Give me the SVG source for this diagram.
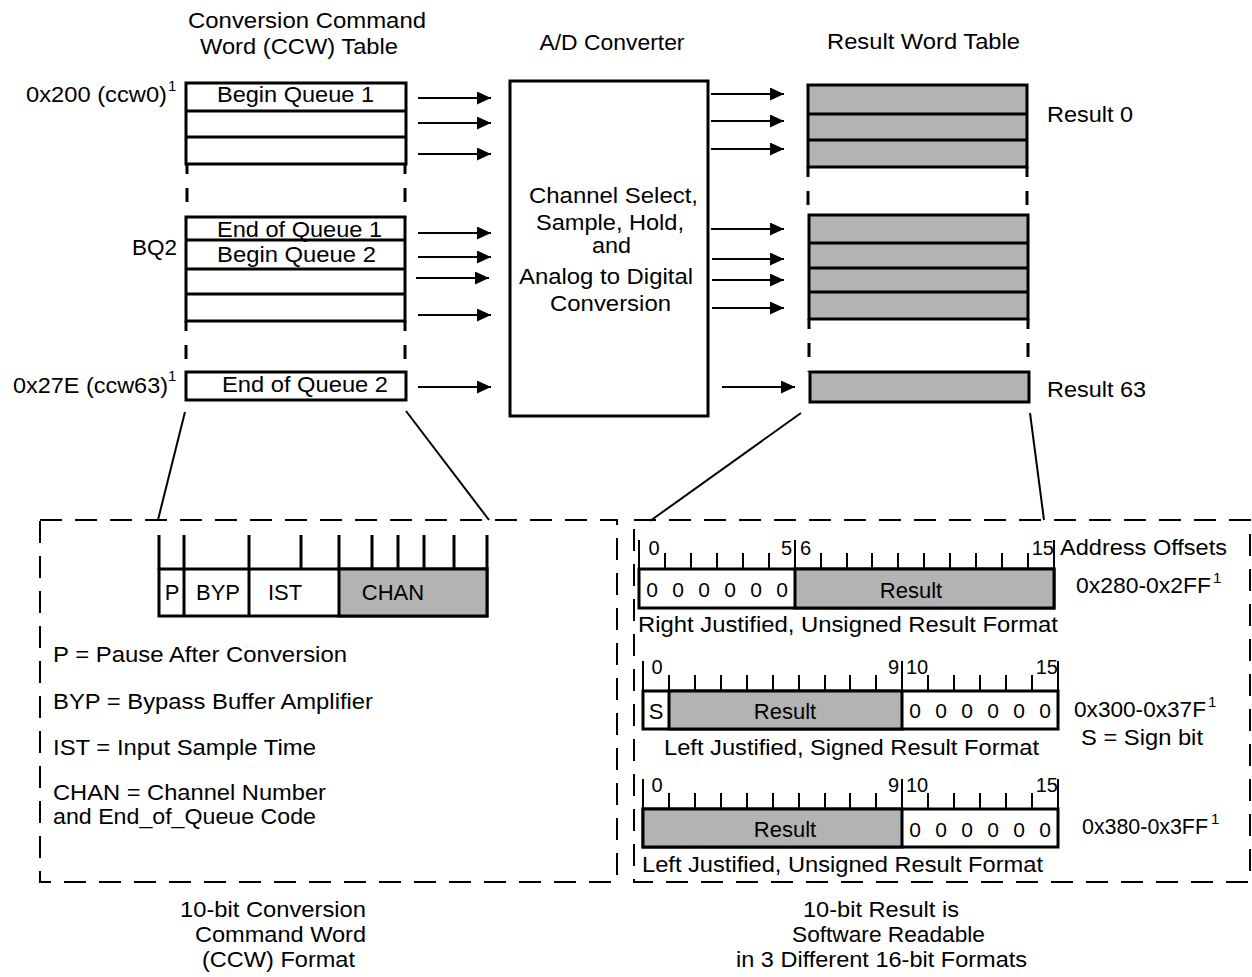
<svg xmlns="http://www.w3.org/2000/svg" width="1252" height="977" viewBox="0 0 1252 977">
<defs>
<marker id="ah" markerUnits="userSpaceOnUse" markerWidth="15" markerHeight="14" refX="14" refY="6.5" orient="auto"><path d="M0,0 L14,6.5 L0,13 z" fill="#000"/></marker>
<style>
text { font-family: "Liberation Sans", Arial, sans-serif; font-size: 22px; fill: #000; }
.n { font-size: 20px; }
.z { font-size: 21px; }
.sup { font-size: 15px; }
.box { fill: #fff; stroke: #000; stroke-width: 3; }
.gbox { fill: #b3b3b3; stroke: #000; stroke-width: 3; }
.ln { stroke: #000; stroke-width: 3; fill: none; }
.tk { stroke: #000; stroke-width: 2; fill: none; }
.gap { stroke: #000; stroke-width: 3; stroke-dasharray: 10 14 14 14; fill: none; }
.arr { stroke: #000; stroke-width: 2; fill: none; marker-end: url(#ah); }
.zl { stroke: #000; stroke-width: 2; fill: none; }
.dash { fill: none; stroke: #000; stroke-width: 2; stroke-dasharray: 22 13; }
.m { text-anchor: middle; }
.e { text-anchor: end; }
</style>
</defs>
<rect width="1252" height="977" fill="#fff"/>

<g id="titles">
<text x="188" y="28" textLength="238" lengthAdjust="spacingAndGlyphs">Conversion Command</text>
<text x="200" y="54" textLength="198" lengthAdjust="spacingAndGlyphs">Word (CCW) Table</text>
<text x="612" y="50" class="m" textLength="145" lengthAdjust="spacingAndGlyphs">A/D Converter</text>
<text x="827" y="49" textLength="193" lengthAdjust="spacingAndGlyphs">Result Word Table</text>
</g>

<g id="ccw-table">
<rect class="box" x="186" y="83" width="220" height="81"/>
<line class="ln" x1="186" y1="111" x2="406" y2="111"/>
<line class="ln" x1="186" y1="137" x2="406" y2="137"/>
<line class="gap" x1="187" y1="164" x2="187" y2="217"/>
<line class="gap" x1="405" y1="164" x2="405" y2="217"/>
<rect class="box" x="186" y="217" width="219" height="104"/>
<line class="ln" x1="186" y1="240" x2="405" y2="240"/>
<line class="ln" x1="186" y1="269" x2="405" y2="269"/>
<line class="ln" x1="186" y1="294" x2="405" y2="294"/>
<line class="gap" x1="186" y1="321" x2="186" y2="372"/>
<line class="gap" x1="405" y1="321" x2="405" y2="372"/>
<rect class="box" x="186" y="372" width="220" height="28"/>
<text x="217" y="102" textLength="157" lengthAdjust="spacingAndGlyphs">Begin Queue 1</text>
<text x="217" y="237" textLength="165" lengthAdjust="spacingAndGlyphs">End of Queue 1</text>
<text x="217" y="262" textLength="159" lengthAdjust="spacingAndGlyphs">Begin Queue 2</text>
<text x="222" y="392" textLength="166" lengthAdjust="spacingAndGlyphs">End of Queue 2</text>
<text x="26" y="102" textLength="141" lengthAdjust="spacingAndGlyphs">0x200 (ccw0)</text>
<text x="168" y="91" class="sup">1</text>
<text x="132" y="255" textLength="45" lengthAdjust="spacingAndGlyphs">BQ2</text>
<text x="13" y="393" textLength="155" lengthAdjust="spacingAndGlyphs">0x27E (ccw63)</text>
<text x="168" y="381" class="sup">1</text>
</g>

<g id="adc">
<rect class="box" x="510" y="81" width="198" height="335"/>
<text x="529" y="203" textLength="169" lengthAdjust="spacingAndGlyphs">Channel Select,</text>
<text x="536" y="230" textLength="148" lengthAdjust="spacingAndGlyphs">Sample, Hold,</text>
<text x="592" y="253" textLength="39" lengthAdjust="spacingAndGlyphs">and</text>
<text x="519" y="284" textLength="174" lengthAdjust="spacingAndGlyphs">Analog to Digital</text>
<text x="550" y="311" textLength="121" lengthAdjust="spacingAndGlyphs">Conversion</text>
</g>

<g id="result-table">
<rect class="gbox" x="808" y="85" width="219" height="82"/>
<line class="ln" x1="808" y1="114" x2="1027" y2="114"/>
<line class="ln" x1="808" y1="140" x2="1027" y2="140"/>
<line class="gap" x1="808" y1="167" x2="808" y2="215"/>
<line class="gap" x1="1027" y1="167" x2="1027" y2="215"/>
<rect class="gbox" x="809" y="215" width="219" height="104"/>
<line class="ln" x1="809" y1="243" x2="1028" y2="243"/>
<line class="ln" x1="809" y1="268" x2="1028" y2="268"/>
<line class="ln" x1="809" y1="292" x2="1028" y2="292"/>
<line class="gap" x1="809" y1="319" x2="809" y2="372"/>
<line class="gap" x1="1028" y1="319" x2="1028" y2="372"/>
<rect class="gbox" x="810" y="372" width="219" height="30"/>
<text x="1047" y="122" textLength="86" lengthAdjust="spacingAndGlyphs">Result 0</text>
<text x="1047" y="397" textLength="99" lengthAdjust="spacingAndGlyphs">Result 63</text>
</g>

<g id="connectors">
<line class="arr" x1="418" y1="98" x2="491" y2="98"/>
<line class="arr" x1="418" y1="123" x2="491" y2="123"/>
<line class="arr" x1="418" y1="154" x2="491" y2="154"/>
<line class="arr" x1="418" y1="233" x2="491" y2="233"/>
<line class="arr" x1="418" y1="257" x2="491" y2="257"/>
<line class="arr" x1="416" y1="278" x2="489" y2="278"/>
<line class="arr" x1="418" y1="315" x2="491" y2="315"/>
<line class="arr" x1="418" y1="387" x2="491" y2="387"/>
<line class="arr" x1="711" y1="94" x2="784" y2="94"/>
<line class="arr" x1="711" y1="121" x2="784" y2="121"/>
<line class="arr" x1="711" y1="149" x2="784" y2="149"/>
<line class="arr" x1="711" y1="229" x2="784" y2="229"/>
<line class="arr" x1="712" y1="259" x2="784" y2="259"/>
<line class="arr" x1="712" y1="280" x2="784" y2="280"/>
<line class="arr" x1="712" y1="308" x2="784" y2="308"/>
<line class="arr" x1="722" y1="387" x2="795" y2="387"/>
<line class="zl" x1="185" y1="412" x2="158" y2="520"/>
<line class="zl" x1="406" y1="411" x2="489" y2="520"/>
<line class="zl" x1="801" y1="413" x2="650" y2="521"/>
<line class="zl" x1="1030" y1="413" x2="1044" y2="520"/>
</g>

<g id="ccw-format">
<rect class="dash" x="40" y="520" width="577" height="362"/>
<rect class="box" x="159" y="569" width="328" height="47"/>
<rect class="gbox" x="339" y="569" width="148" height="47"/>
<line class="ln" x1="184" y1="569" x2="184" y2="616"/>
<line class="ln" x1="249" y1="569" x2="249" y2="616"/>
<g class="ln">
<line x1="159" y1="535" x2="159" y2="569"/>
<line x1="184" y1="535" x2="184" y2="569"/>
<line x1="249" y1="535" x2="249" y2="569"/>
<line x1="301" y1="535" x2="301" y2="569"/>
<line x1="339" y1="535" x2="339" y2="569"/>
<line x1="372" y1="535" x2="372" y2="569"/>
<line x1="398" y1="535" x2="398" y2="569"/>
<line x1="424" y1="535" x2="424" y2="569"/>
<line x1="454" y1="535" x2="454" y2="569"/>
<line x1="487" y1="535" x2="487" y2="569"/>
</g>
<text x="172" y="600" class="m">P</text>
<text x="218" y="600" class="m">BYP</text>
<text x="285" y="600" class="m">IST</text>
<text x="393" y="600" class="m">CHAN</text>
<text x="53" y="662" textLength="294" lengthAdjust="spacingAndGlyphs">P = Pause After Conversion</text>
<text x="53" y="709" textLength="320" lengthAdjust="spacingAndGlyphs">BYP = Bypass Buffer Amplifier</text>
<text x="53" y="755" textLength="263" lengthAdjust="spacingAndGlyphs">IST = Input Sample Time</text>
<text x="53" y="800" textLength="273" lengthAdjust="spacingAndGlyphs">CHAN = Channel Number</text>
<text x="53" y="824" textLength="263" lengthAdjust="spacingAndGlyphs">and End_of_Queue Code</text>
</g>

<g id="result-formats">
<rect class="dash" x="634" y="520" width="616" height="362"/>
<rect class="box" x="639" y="569" width="415" height="39"/>
<rect class="gbox" x="795" y="569" width="259" height="39"/>
<g class="tk">
<line x1="639" y1="540" x2="639" y2="569"/><line x1="795" y1="540" x2="795" y2="569"/><line x1="1054" y1="540" x2="1054" y2="569"/>
<line x1="665" y1="553" x2="665" y2="569"/><line x1="691" y1="553" x2="691" y2="569"/><line x1="717" y1="553" x2="717" y2="569"/><line x1="743" y1="553" x2="743" y2="569"/><line x1="769" y1="553" x2="769" y2="569"/>
<line x1="821" y1="553" x2="821" y2="569"/><line x1="847" y1="553" x2="847" y2="569"/><line x1="872" y1="553" x2="872" y2="569"/><line x1="898" y1="553" x2="898" y2="569"/><line x1="924" y1="553" x2="924" y2="569"/><line x1="950" y1="553" x2="950" y2="569"/><line x1="976" y1="553" x2="976" y2="569"/><line x1="1002" y1="553" x2="1002" y2="569"/><line x1="1028" y1="553" x2="1028" y2="569"/>
</g>
<text x="654" y="555" class="n m">0</text>
<text x="792" y="555" class="n e">5</text>
<text x="800" y="555" class="n">6</text>
<text x="1054" y="555" class="n e">15</text>
<text x="652" y="597" class="z m">0</text><text x="678" y="597" class="z m">0</text><text x="704" y="597" class="z m">0</text><text x="730" y="597" class="z m">0</text><text x="756" y="597" class="z m">0</text><text x="782" y="597" class="z m">0</text>
<text x="911" y="598" class="m">Result</text>
<text x="638" y="632" textLength="420" lengthAdjust="spacingAndGlyphs">Right Justified, Unsigned Result Format</text>
<text x="1060" y="555" textLength="167" lengthAdjust="spacingAndGlyphs">Address Offsets</text>
<text x="1076" y="593" textLength="135" lengthAdjust="spacingAndGlyphs">0x280-0x2FF</text>
<text x="1213" y="583" class="sup">1</text>

<rect class="box" x="643" y="691" width="415" height="38"/>
<rect class="gbox" x="669" y="691" width="233" height="38"/>
<g class="tk">
<line x1="643" y1="661" x2="643" y2="691"/><line x1="902" y1="661" x2="902" y2="691"/><line x1="1058" y1="661" x2="1058" y2="691"/>
<line x1="669" y1="675" x2="669" y2="691"/><line x1="695" y1="675" x2="695" y2="691"/><line x1="721" y1="675" x2="721" y2="691"/><line x1="747" y1="675" x2="747" y2="691"/><line x1="773" y1="675" x2="773" y2="691"/><line x1="799" y1="675" x2="799" y2="691"/><line x1="825" y1="675" x2="825" y2="691"/><line x1="850" y1="675" x2="850" y2="691"/><line x1="876" y1="675" x2="876" y2="691"/>
<line x1="928" y1="675" x2="928" y2="691"/><line x1="954" y1="675" x2="954" y2="691"/><line x1="980" y1="675" x2="980" y2="691"/><line x1="1006" y1="675" x2="1006" y2="691"/><line x1="1032" y1="675" x2="1032" y2="691"/>
</g>
<text x="657" y="674" class="n m">0</text>
<text x="899" y="674" class="n e">9</text>
<text x="906" y="674" class="n">10</text>
<text x="1058" y="674" class="n e">15</text>
<text x="656" y="719" class="m">S</text>
<text x="785" y="719" class="m">Result</text>
<text x="915" y="718" class="z m">0</text><text x="941" y="718" class="z m">0</text><text x="967" y="718" class="z m">0</text><text x="993" y="718" class="z m">0</text><text x="1019" y="718" class="z m">0</text><text x="1045" y="718" class="z m">0</text>
<text x="664" y="755" textLength="375" lengthAdjust="spacingAndGlyphs">Left Justified, Signed Result Format</text>
<text x="1074" y="717" textLength="132" lengthAdjust="spacingAndGlyphs">0x300-0x37F</text>
<text x="1208" y="707" class="sup">1</text>
<text x="1081" y="745" textLength="122" lengthAdjust="spacingAndGlyphs">S = Sign bit</text>

<rect class="box" x="643" y="809" width="415" height="38"/>
<rect class="gbox" x="643" y="809" width="259" height="38"/>
<g class="tk">
<line x1="643" y1="779" x2="643" y2="809"/><line x1="902" y1="779" x2="902" y2="809"/><line x1="1058" y1="779" x2="1058" y2="809"/>
<line x1="669" y1="793" x2="669" y2="809"/><line x1="695" y1="793" x2="695" y2="809"/><line x1="721" y1="793" x2="721" y2="809"/><line x1="747" y1="793" x2="747" y2="809"/><line x1="773" y1="793" x2="773" y2="809"/><line x1="799" y1="793" x2="799" y2="809"/><line x1="825" y1="793" x2="825" y2="809"/><line x1="850" y1="793" x2="850" y2="809"/><line x1="876" y1="793" x2="876" y2="809"/>
<line x1="928" y1="793" x2="928" y2="809"/><line x1="954" y1="793" x2="954" y2="809"/><line x1="980" y1="793" x2="980" y2="809"/><line x1="1006" y1="793" x2="1006" y2="809"/><line x1="1032" y1="793" x2="1032" y2="809"/>
</g>
<text x="657" y="792" class="n m">0</text>
<text x="899" y="792" class="n e">9</text>
<text x="906" y="792" class="n">10</text>
<text x="1058" y="792" class="n e">15</text>
<text x="785" y="837" class="m">Result</text>
<text x="915" y="837" class="z m">0</text><text x="941" y="837" class="z m">0</text><text x="967" y="837" class="z m">0</text><text x="993" y="837" class="z m">0</text><text x="1019" y="837" class="z m">0</text><text x="1045" y="837" class="z m">0</text>
<text x="642" y="872" textLength="401" lengthAdjust="spacingAndGlyphs">Left Justified, Unsigned Result Format</text>
<text x="1082" y="834" textLength="126" lengthAdjust="spacingAndGlyphs">0x380-0x3FF</text>
<text x="1211" y="824" class="sup">1</text>
</g>

<g id="captions">
<text x="366" y="917" class="e" textLength="186" lengthAdjust="spacingAndGlyphs">10-bit Conversion</text>
<text x="366" y="942" class="e" textLength="171" lengthAdjust="spacingAndGlyphs">Command Word</text>
<text x="202" y="967" textLength="153" lengthAdjust="spacingAndGlyphs">(CCW) Format</text>
<text x="803" y="917" textLength="156" lengthAdjust="spacingAndGlyphs">10-bit Result is</text>
<text x="792" y="942" textLength="193" lengthAdjust="spacingAndGlyphs">Software Readable</text>
<text x="1027" y="967" class="e" textLength="291" lengthAdjust="spacingAndGlyphs">in 3 Different 16-bit Formats</text>
</g>
</svg>
